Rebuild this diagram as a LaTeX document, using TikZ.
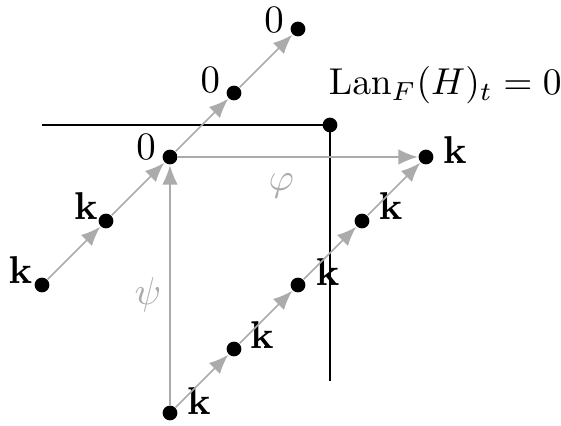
\documentclass[tikz,border=0pt]{standalone}
\usepackage{graphicx}
\usetikzlibrary{arrows.meta}
\begin{document}
\begin{tikzpicture}[x=0.58cm,y=0.58cm]
            %
            % `dot' is used for every object.
            % `map' is used for the grey arrows.
            % `wall' is used for the black corner line.
            \tikzstyle{dot} = [fill,shape=circle,minimum size=3.8pt,inner sep=0pt]
            \tikzstyle{tag} = [anchor=center,inner sep=0pt]
            \tikzstyle{map} = [draw=black!33,line width=0.45pt,-{Latex[length=5pt,width=4pt]}]
            \tikzstyle{wall} = [draw=black,line width=0.55pt]
            \useasboundingbox (-2.656,-4.203) rectangle (6.109,2.453);
            %
            % Back diagonal
            \node[dot,label={[tag,label distance=4.6pt]146:$\mathbf{k}$}] (a1) at (-2,-2) {};
            \node[dot,label={[tag,label distance=4.3pt]144:$\mathbf{k}$}] (a2) at (-1,-1) {};
            \node[dot,label={[tag,label distance=4.6pt]157:$0$}] (a3) at (0,0) {};
            \node[dot,label={[tag,label distance=4.8pt]152:$0$}] (a4) at (1,1) {};
            \node[dot,label={[tag,label distance=4.5pt]159:$0$}] (a5) at (2,2) {};
            %
            % Front diagonal
            \node[dot,label={[tag,label distance=6pt]23:$\mathbf{k}$}] (b1) at (0,-4) {};
            \node[dot,label={[tag,label distance=5.9pt]26:$\mathbf{k}$}] (b2) at (1,-3) {};
            \node[dot,label={[tag,label distance=6.3pt]24:$\mathbf{k}$}] (b3) at (2,-2) {};
            \node[dot,label={[tag,label distance=6.3pt]28:$\mathbf{k}$}] (b4) at (3,-1) {};
            \node[dot,label={[tag,label distance=5.6pt]14:$\mathbf{k}$}] (b5) at (4,0) {};
            %
            % Corner
            \node[dot] (corner) at (2.5,0.5) {};
            \node[anchor=base west,inner sep=0pt] (lan) at (2.47,0.97) {\scalebox{0.965}{$\mathrm{Lan}_F(H)_t = 0$}};
            \coordinate (wallleft) at (-2,0.5);
            \coordinate (wallbottom) at (2.5,-3.5);
            \draw[wall] (wallleft) -- (corner.center) -- (wallbottom);
            %
            % Arrows
            \draw[map] (a1) -- (a2);
            \draw[map] (a2) -- (a3);
            \draw[map] (a3) -- (a4);
            \draw[map] (a4) -- (a5);
            \draw[map] (b1) -- (b2);
            \draw[map] (b2) -- (b3);
            \draw[map] (b3) -- (b4);
            \draw[map] (b4) -- (b5);
            \draw[map] (a3) -- node[below,pos=0.43,text=black!33,inner sep=4pt] (phi) {$\varphi$} (b5);
            \draw[map] (b1) -- node[left,pos=0.46,text=black!33,inner sep=2pt] (psi) {$\psi$} (a3);
        \end{tikzpicture}
\end{document}
